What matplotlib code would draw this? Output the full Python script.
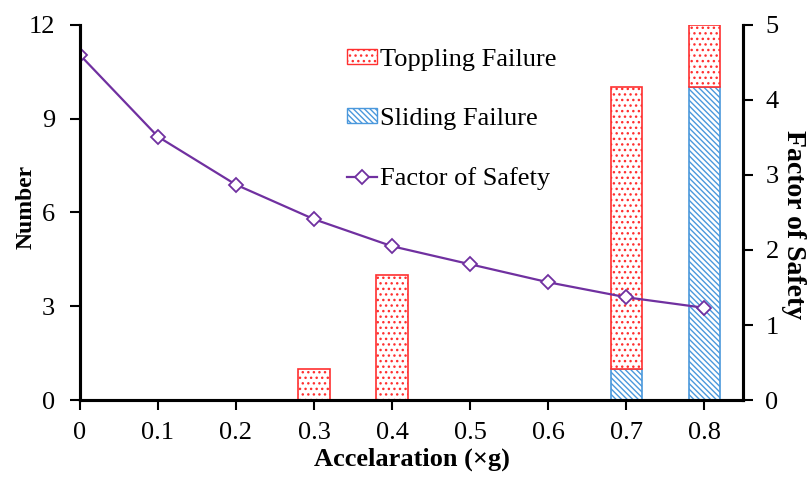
import matplotlib.pyplot as plt
import matplotlib as mpl
from matplotlib.lines import Line2D
from matplotlib.patches import Patch

plt.rcParams['font.family'] = ['Liberation Serif', 'DejaVu Serif']
plt.rcParams['hatch.linewidth'] = 1.0

# data
accel = [0.0, 0.1, 0.2, 0.3, 0.4, 0.5, 0.6, 0.7, 0.8]
sliding = [0, 0, 0, 0, 0, 0, 0, 1, 10]
toppling = [0, 0, 0, 1, 4, 0, 0, 9, 2]
safety = [4.60, 3.51, 2.87, 2.41, 2.05, 1.81, 1.57, 1.37, 1.23]

red = '#ff3030'
dot_red = '#ff5a5a'
blue = '#4a98dc'
purple = '#7030a0'
slide_hatch = '\\' * 6
topple_hatch = '...'

fig = plt.figure(figsize=(8.07, 4.78), dpi=100)
ax = fig.add_axes([0.099, 0.163, 0.822, 0.785])
ax2 = ax.twinx()

# stacked bars, only where there are failures
xs = [a for a, s in zip(accel, sliding) if s > 0]
ss = [s for s in sliding if s > 0]
mpl.rcParams['hatch.color'] = blue
ax.bar(xs, ss, width=0.04, color='white', edgecolor=blue, hatch=slide_hatch, linewidth=1.2)
mpl.rcParams['hatch.color'] = dot_red
xt = [a for a, t in zip(accel, toppling) if t > 0]
tt = [t for t in toppling if t > 0]
bt = [s for s, t in zip(sliding, toppling) if t > 0]
ax.bar(xt, tt, bottom=bt, width=0.04, color='white', edgecolor=red, hatch=topple_hatch, linewidth=1.2)

ax2.plot(accel, safety, color=purple, lw=1.6, marker='D', ms=7.5,
         mfc='white', mec=purple, mew=1.3)

ax.set_xlim(0, 0.85)
ax.set_ylim(0, 12)
ax2.set_ylim(0, 5)
ax.set_xticks(accel)
ax.set_xticklabels(['0'] + ['%.1f' % a for a in accel[1:]])
ax.set_yticks([0, 3, 6, 9, 12])
ax2.set_yticks([0, 1, 2, 3, 4, 5])

for a in (ax, ax2):
    a.spines['top'].set_visible(False)
    for s in ('left', 'right', 'bottom'):
        a.spines[s].set_linewidth(2.2)
ax.tick_params(axis='y', labelsize=19, width=1.5, length=7, direction='out', pad=11)
ax2.tick_params(axis='y', labelsize=19, width=1.5, length=7, direction='out', pad=9)
ax.tick_params(axis='x', labelsize=19, width=1.5, length=7, direction='out', pad=9)

ax.set_xlabel('Accelaration (×g)', fontsize=19, fontweight='bold', labelpad=2)
ax.set_ylabel('Number', fontsize=17, fontweight='bold')
ax.yaxis.set_label_coords(-0.066, 0.515)
ax2.set_ylabel('Factor of Safety', fontsize=20, fontweight='bold', rotation=-90, labelpad=20)
ax2.yaxis.label.set_y(0.467)

handles = [
    Patch(facecolor='white', edgecolor=red, hatch=topple_hatch, label='Toppling Failure'),
    Patch(facecolor='white', edgecolor=blue, hatch=slide_hatch, label='Sliding Failure'),
    Line2D([], [], color=purple, lw=1.6, marker='D', ms=7.5, mfc='white', mec=purple,
           mew=1.3, label='Factor of Safety'),
]
leg = ax2.legend(handles=handles, loc='upper left', bbox_to_anchor=(0.430, 0.897),
                 bbox_transform=fig.transFigure, frameon=False, borderpad=0, borderaxespad=0,
                 fontsize=19, labelspacing=1.4, handlelength=1.15, handleheight=0.5,
                 handletextpad=0.1)

fig.savefig('out.png', dpi=100)
